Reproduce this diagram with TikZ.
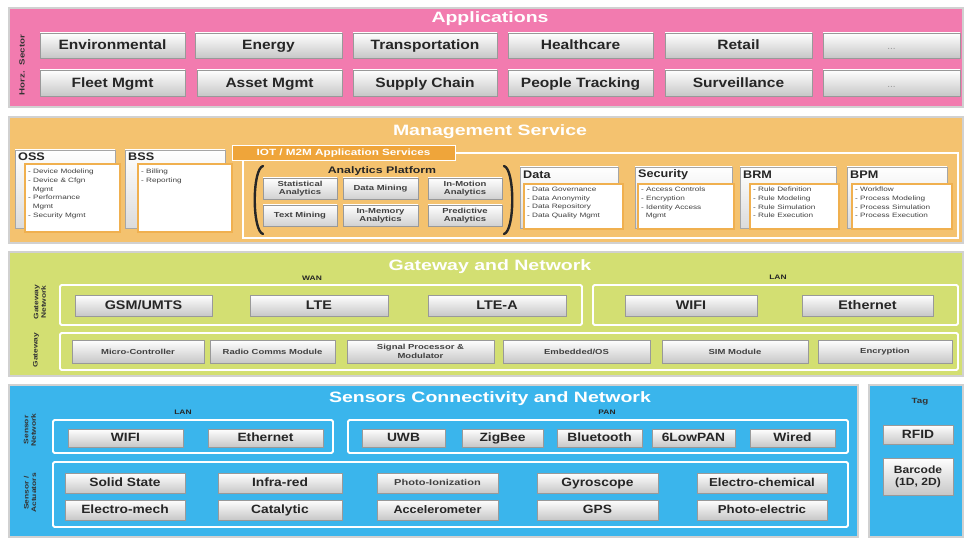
\documentclass[tikz,border=0pt]{standalone}
\usepackage{fontspec}
\setmainfont{Liberation Sans}
\newfontfamily\wf[FakeStretch=1.15]{Liberation Sans}
\newfontfamily\wwf[FakeStretch=1.3]{Liberation Sans}
\usetikzlibrary{shadows}
\definecolor{appPink}{HTML}{F27BAF}
\definecolor{mgmtOr}{HTML}{F4C26F}
\definecolor{mgmtDark}{HTML}{EFA53A}
\definecolor{mgmtLine}{HTML}{F0B04F}
\definecolor{gwGreen}{HTML}{D3DF72}
\definecolor{snBlue}{HTML}{3AB5EC}
\newcommand\fsz[2]{\fontsize{#1}{#2}\selectfont}
\newcommand\mybox[7][]{\node[gbox,#1,minimum width={(#4-#2)*1pt},minimum height={(#5-#3)*1pt}] (#6) at ({(#2+#4)/2},{(#3+#5)/2}) {#7};}
\tikzset{
  band/.style={draw=black!18, line width=1.3pt},
  gbox/.style={draw=black!40, line width=0.4pt, top color=white, bottom color=black!22,
     inner sep=0pt, outer sep=0pt, align=center,
     drop shadow={shadow xshift=0.9pt, shadow yshift=-0.9pt, opacity=0.3}},
  one/.style={text height={0.72*#1 pt}, text depth={0.12*#1 pt}, font=\wf\bfseries\fsz{#1}{#1}},
  apb/.style={one=13.5, text=black!85},
  wanb/.style={one=12.5, text=black!85},
  gw2/.style={font=\wwf\bfseries\fsz{7.3}{8.3}, text=black!75},
  anb/.style={font=\wwf\bfseries\fsz{7.3}{8.3}, text=black!75, bottom color=black!18},
  snb/.style={one=12, text=black!85},
  ttl/.style={text=white, font=\wwf\bfseries\fsz{15}{16}},
  vlbl/.style={rotate=90, font=\wwf\bfseries\fsz{6.5}{7.5}, text=black!80, align=center},
  smlbl/.style={font=\wwf\bfseries\fsz{6.5}{7}, text=black!85},
  frm/.style={draw=white, line width=1.8pt, rounded corners=1.5pt},
  hdr/.style={draw=black!35, line width=0.4pt, top color=white, bottom color=black!14},
  lst/.style={fill=white, draw=mgmtLine, line width=1.3pt},
  hdrtxt/.style={font=\wf\bfseries\fsz{11}{11}, text=black!85, anchor=west, inner sep=0pt},
  lsttxt/.style={font=\wwf\fsz{6.3}{8.7}, text=black!75, anchor=north west, inner sep=0pt, align=left},
  brk/.style={draw=black!85, line width=2.4pt, line cap=round},
  dots/.style={font=\fsz{10}{10}, text=black!40}
}
\begin{document}
\begin{tikzpicture}[x=1pt,y=-1pt]
\useasboundingbox (0,0) rectangle (964,540);
\fill[white] (0,0) rectangle (964,540);

% ================= Applications =================
\path[band, fill=appPink] (9,8) rectangle (963,107);
\node[ttl] (tApp) at (490,19) {Applications};
\node[vlbl, font=\wwf\bfseries\fsz{7.5}{8}] (hs) at (22,65) {Horz.\ \ Sector};
\mybox[apb]{40}{33}{185}{58}{env}{Environmental}
\mybox[apb]{195}{33}{342}{58}{ene}{Energy}
\mybox[apb]{353}{33}{497}{58}{tra}{Transportation}
\mybox[apb]{508}{33}{653}{58}{hea}{Healthcare}
\mybox[apb]{665}{33}{812}{58}{ret}{Retail}
\mybox[apb,dots]{823}{33}{960}{58}{dotA}{...}
\mybox[apb]{40}{70}{185}{96}{fle}{Fleet Mgmt}
\mybox[apb]{197}{70}{342}{96}{ass}{Asset Mgmt}
\mybox[apb]{353}{70}{497}{96}{sup}{Supply Chain}
\mybox[apb]{508}{70}{653}{96}{peo}{People Tracking}
\mybox[apb]{665}{70}{812}{96}{sur}{Surveillance}
\mybox[apb,dots]{823}{70}{960}{96}{dotB}{...}

% ================= Management Service =================
\path[band, fill=mgmtOr] (9,117) rectangle (963,243);
\node[ttl] (tMgmt) at (490,132) {Management Service};
% IOT / M2M container
\draw[white, line width=1.6pt] (243,153) rectangle (958,238);
\node[fill=mgmtDark, draw=white, line width=0.8pt, text=white, font=\wwf\bfseries\fsz{9}{9},
      minimum width=223pt, minimum height=15pt, inner sep=0pt] (iot) at (343.5,153) {IOT / M2M Application Services};
% OSS
\path[hdr] (15,150) rectangle (115,228);
\node[hdrtxt] (oss) at (18,157) {OSS};
\path[lst] (25,164) rectangle (120,232);
\node[lsttxt] (ossL) at (28,169) {- Device Modeling\\- Device \& Cfgn\\\ \ Mgmt\\- Performance\\\ \ Mgmt\\- Security Mgmt};
% BSS
\path[hdr] (125,150) rectangle (225,228);
\node[hdrtxt] (bss) at (128,157) {BSS};
\path[lst] (138,164) rectangle (232,232);
\node[lsttxt] (bssL) at (141,169) {- Billing\\- Reporting};
% Analytics platform
\draw[brk] (263,166) .. controls (252,169) and (252,231) .. (263,234);
\draw[brk] (504,166) .. controls (515,169) and (515,231) .. (504,234);
\node[font=\wwf\bfseries\fsz{9.5}{10}, text=black!85] (anp) at (382,171) {Analytics Platform};
\mybox[anb]{263}{178}{337}{199}{sta}{Statistical\\Analytics}
\mybox[anb]{343}{178}{418}{199}{dmi}{Data Mining}
\mybox[anb]{428}{178}{502}{199}{imo}{In-Motion\\Analytics}
\mybox[anb]{263}{205}{337}{226}{tmi}{Text Mining}
\mybox[anb]{343}{205}{418}{226}{ime}{In-Memory\\Analytics}
\mybox[anb]{428}{205}{502}{226}{pre}{Predictive\\Analytics}
% Data
\path[hdr] (520,167) rectangle (618,228);
\node[hdrtxt] (dat) at (523,175) {Data};
\path[lst] (524,184) rectangle (623,229);
\node[lsttxt] (datL) at (527,187) {- Data Governance\\- Data Anonymity\\- Data Repository\\- Data Quality Mgmt};
% Security
\path[hdr] (635,167) rectangle (732,228);
\node[hdrtxt] (sec) at (638,175) {Security};
\path[lst] (638,184) rectangle (734,229);
\node[lsttxt] (secL) at (641,187) {- Access Controls\\- Encryption\\- Identity Access\\\ \ Mgmt};
% BRM
\path[hdr] (740,167) rectangle (836,228);
\node[hdrtxt] (brm) at (743,175) {BRM};
\path[lst] (750,184) rectangle (839,229);
\node[lsttxt] (brmL) at (753,187) {- Rule Definition\\- Rule Modeling\\- Rule Simulation\\- Rule Execution};
% BPM
\path[hdr] (847,167) rectangle (947,228);
\node[hdrtxt] (bpm) at (850,175) {BPM};
\path[lst] (852,184) rectangle (952,229);
\node[lsttxt] (bpmL) at (855,187) {- Workflow\\- Process Modeling\\- Process Simulation\\- Process Execution};

% ================= Gateway and Network =================
\path[band, fill=gwGreen] (9,252) rectangle (963,376);
\node[ttl] (tGw) at (490,267) {Gateway and Network};
\node[vlbl] (gwn) at (40,302) {Gateway\\Network};
\node[vlbl] (gwy) at (36,350) {Gateway};
\draw[frm] (60,285) rectangle (582,325);
\draw[frm] (593,285) rectangle (958,325);
\node[smlbl] (wan) at (312,278) {WAN};
\node[smlbl] (lanG) at (778,277) {LAN};
\mybox[wanb]{75}{295}{212}{316}{gsm}{GSM/UMTS}
\mybox[wanb]{250}{295}{388}{316}{lte}{LTE}
\mybox[wanb]{428}{295}{566}{316}{ltea}{LTE-A}
\mybox[wanb]{625}{295}{757}{316}{wifiG}{WIFI}
\mybox[wanb]{802}{295}{933}{316}{ethG}{Ethernet}
\draw[frm] (60,333) rectangle (958,370);
\mybox[gw2]{72}{340}{204}{363}{mic}{Micro-Controller}
\mybox[gw2]{210}{340}{335}{363}{rad}{Radio Comms Module}
\mybox[gw2]{347}{340}{494}{363}{sig}{Signal Processor \&\\Modulator}
\mybox[gw2]{503}{340}{650}{363}{emb}{Embedded/OS}
\mybox[gw2]{662}{340}{808}{363}{sim}{SIM Module}
\mybox[gw2]{818}{340}{952}{363}{enc}{Encryption}

% ================= Sensors Connectivity and Network =================
\path[band, fill=snBlue] (9,385) rectangle (858,537);
\path[band, fill=snBlue] (869,385) rectangle (963,537);
\node[ttl] (tSn) at (490,399) {Sensors Connectivity and Network};
\node[vlbl] (snn) at (30,430) {Sensor\\Network};
\node[vlbl] (sna) at (30,493) {Sensor /\\Actuators};
\draw[frm] (53,420) rectangle (333,453);
\draw[frm] (348,420) rectangle (848,453);
\node[smlbl] (lanS) at (183,412) {LAN};
\node[smlbl] (pan) at (607,412) {PAN};
\mybox[snb]{68}{429}{183}{447}{wifiS}{WIFI}
\mybox[snb]{208}{429}{323}{447}{ethS}{Ethernet}
\mybox[snb]{362}{429}{445}{447}{uwb}{UWB}
\mybox[snb]{462}{429}{543}{447}{zig}{ZigBee}
\mybox[snb]{557}{429}{642}{447}{blu}{Bluetooth}
\mybox[snb]{652}{429}{735}{447}{low}{6LowPAN}
\mybox[snb]{750}{429}{835}{447}{wir}{Wired}
\draw[frm] (53,462) rectangle (848,527);
\mybox[snb]{65}{473}{185}{493}{sol}{Solid State}
\mybox[snb]{65}{500}{185}{520}{elm}{Electro-mech}
\mybox[snb]{218}{473}{342}{493}{inf}{Infra-red}
\mybox[snb]{218}{500}{342}{520}{cat}{Catalytic}
\mybox[snb,one=8.5,font=\wwf\bfseries\fsz{8.5}{9},text=black!75]{377}{473}{498}{493}{pho}{Photo-Ionization}
\mybox[snb,one=11]{377}{500}{498}{520}{acc}{Accelerometer}
\mybox[snb]{537}{473}{658}{493}{gyr}{Gyroscope}
\mybox[snb]{537}{500}{658}{520}{gps}{GPS}
\mybox[snb,one=11.5]{697}{473}{827}{493}{ech}{Electro-chemical}
\mybox[snb,one=11.5]{697}{500}{827}{520}{pel}{Photo-electric}
% Tag
\node[font=\wwf\bfseries\fsz{7.5}{8}, text=black!80] (tag) at (920,402) {Tag};
\mybox[snb]{883}{425}{953}{444}{rfid}{RFID}
\mybox[text=black!85,font=\wf\bfseries\fsz{10.5}{12}]{883}{458}{953}{495}{bar}{Barcode\\(1D, 2D)}
\end{tikzpicture}
\end{document}
